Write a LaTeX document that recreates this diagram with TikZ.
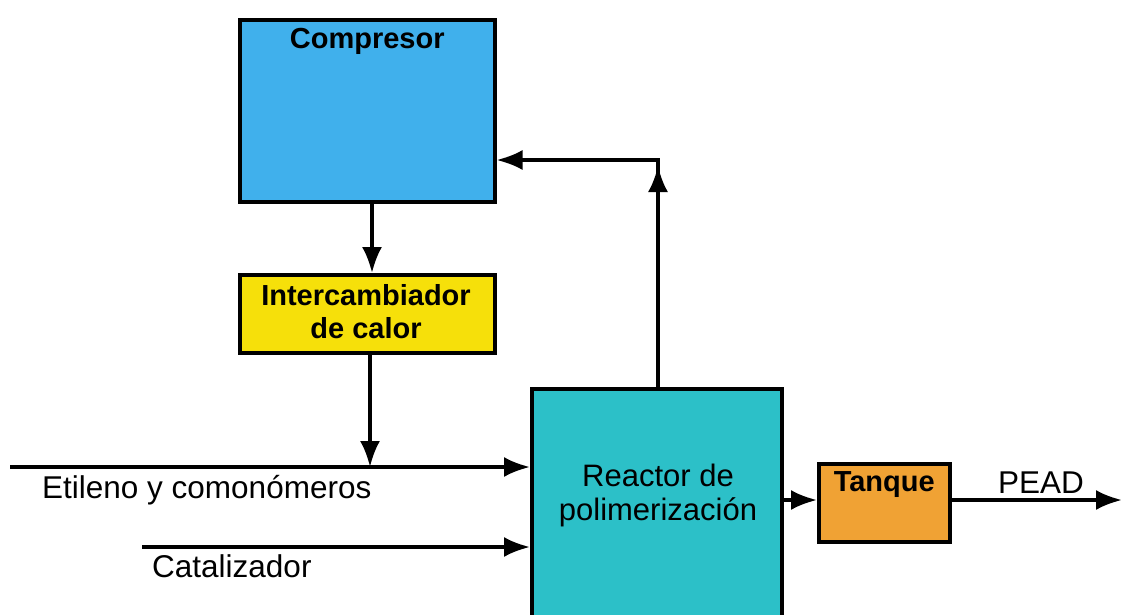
\documentclass[tikz,border=0pt]{standalone}
\usepackage{fontspec}
\setmainfont{Liberation Sans}
\usetikzlibrary{arrows.meta}
\definecolor{cblue}{RGB}{64,176,236}
\definecolor{cyellow}{RGB}{246,224,10}
\definecolor{cteal}{RGB}{44,192,200}
\definecolor{corange}{RGB}{240,162,52}
\tikzset{
  blk/.style={draw=black, line width=3.5pt, anchor=north west, inner sep=0pt},
  flow/.style={line width=3.5pt, line join=miter, -{Latex[length=26pt,width=20pt]}},
  lbl/.style={font=\fontsize{31.5}{35}\selectfont, inner sep=0pt},
  bxt/.style={font=\fontsize{29}{33}\selectfont\bfseries, inner sep=0pt, align=center},
}
\begin{document}
\begin{tikzpicture}[x=1pt,y=-1pt]
\useasboundingbox (0,0) rectangle (1130,614);
% blocks
\node[blk, fill=cblue, minimum width=255pt, minimum height=182pt,
      label={[bxt, anchor=north, yshift=-10pt]north:Compresor}] (comp) at (238,18) {};
\node[blk, fill=cyellow, minimum width=255pt, minimum height=78pt] (inter) at (238,273) {};
\node[bxt, align=center] (intert) at (366,312) {Intercambiador\\de calor};
\node[blk, fill=cteal, minimum width=250pt, minimum height=232pt] (reac) at (530,387) {};
\node[lbl, align=center, font=\fontsize{31}{34}\selectfont] (reactt) at (658,495) {Reactor de\\polimerización};
\node[blk, fill=corange, minimum width=131pt, minimum height=78pt,
      label={[bxt, anchor=north, yshift=-9pt]north:Tanque}] (tank) at (817,462) {};
% coordinates
\coordinate (ein) at (10,467);
\coordinate (jn) at (370,467);
\coordinate (cin) at (142,547);
\coordinate (rin1) at (reac.west |- ein);
\coordinate (rin2) at (reac.west |- cin);
\coordinate (upmid) at (658,166);
\coordinate (corner) at (658,160);
\coordinate (cmpin) at (comp.east |- corner);
\coordinate (tk) at (reac.east |- 0,500);
\coordinate (tkin) at (tank.west |- tk);
\coordinate (tkout) at (tank.east |- tk);
\coordinate (pout) at (1122,500);
% connectors
\draw[flow] (comp.south -| 372,0) -- (inter.north -| 372,0);
\draw[flow] (inter.south -| jn) -- (jn);
\draw[flow] (ein) -- (rin1);
\draw[flow] (cin) -- (rin2);
\draw[flow] (reac.north -| corner) -- (corner) -- (cmpin);
\draw[flow] (reac.north -| corner) -- (upmid);
\draw[flow] (tk) -- (tkin);
\draw[flow] (tkout) -- (pout);
% labels
\node[lbl, anchor=west] (etl) at (42,490) {Etileno y comonómeros};
\node[lbl, anchor=west] (cat) at (152,566) {Catalizador};
\node[lbl, anchor=west] (pead) at (998,483) {PEAD};
\end{tikzpicture}
\end{document}
